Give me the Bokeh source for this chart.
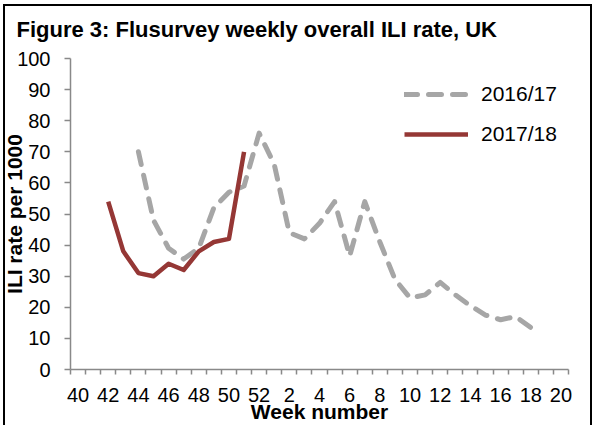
from bokeh.plotting import figure
from bokeh.models import Range1d, FixedTicker, Legend, LegendItem, InlineStyleSheet
from bokeh.embed import file_html
from bokeh.resources import INLINE

# Week categories (season runs from week 40 to week 20)
weeks = list(range(40, 53)) + list(range(1, 21))
tick_weeks = [40, 42, 44, 46, 48, 50, 52, 2, 4, 6, 8, 10, 12, 14, 16, 18, 20]
y_ticks = [0, 10, 20, 30, 40, 50, 60, 70, 80, 90, 100]

# 2016/17 season
weeks_1617 = [44, 45, 46, 47, 48, 49, 50, 51, 52, 1, 2, 3, 4, 5, 6, 7, 8, 9,
              10, 11, 12, 13, 14, 15, 16, 17, 18]
rate_1617 = [70, 48, 39, 35.5, 39, 52, 57, 59, 76, 66, 44, 42, 47, 54, 36.5, 54,
             41, 29, 23, 24, 28, 24, 20.5, 17.5, 16, 17, 13.5]

# 2017/18 season
weeks_1718 = [42, 43, 44, 45, 46, 47, 48, 49, 50, 51]
rate_1718 = [54, 38, 31, 30, 34, 32, 38, 41, 42, 70]

TITLE = "Figure 3:  Flusurvey  weekly overall ILI rate, UK"
FONT = "Liberation Sans"
GRAY_AXIS = "#898989"


def xpos(ws):
    return [weeks.index(w) + 0.5 for w in ws]


p = figure(frame_width=498, frame_height=311,
           x_range=Range1d(0, len(weeks)), y_range=Range1d(0, 100),
           output_backend="svg", toolbar_location=None,
           min_border_left=70, min_border_right=28,
           min_border_top=58, min_border_bottom=56)
p.stylesheets = [InlineStyleSheet(css="""
:host { position: relative; }
:host::after {
  content: "";
  position: absolute;
  left: 3px; top: 4px; right: 4px; bottom: -4px;
  border: 2px solid black;
  pointer-events: none;
  z-index: 100;
}
""")]
p.outline_line_color = None
p.background_fill_color = "white"
p.border_fill_color = "white"
p.xgrid.grid_line_color = None
p.ygrid.grid_line_color = None

# Title
p.title.text = TITLE
p.title.align = "left"
p.title.vertical_align = "top"
p.title.offset = -54
p.title.text_font = FONT
p.title.text_font_size = "22px"
p.title.text_font_style = "bold"
p.title.text_color = "black"
p.title.text_line_height = 0.8
p.title.standoff = 30

# X axis
xa = p.xaxis[0]
xa.ticker = FixedTicker(ticks=xpos(tick_weeks), minor_ticks=list(range(0, len(weeks) + 1)))
xa.major_label_overrides = {x: str(w) for x, w in zip(xpos(tick_weeks), tick_weeks)}
xa.major_tick_out = 0
xa.major_tick_in = 0
xa.minor_tick_out = 5
xa.minor_tick_in = 0
xa.minor_tick_line_color = GRAY_AXIS
xa.minor_tick_line_width = 1.5
xa.axis_line_color = GRAY_AXIS
xa.axis_line_width = 1.5
xa.major_label_standoff = 13
xa.major_label_text_font = FONT
xa.major_label_text_font_size = "20px"
xa.major_label_text_color = "black"
xa.axis_label = "Week number"
xa.axis_label_standoff = -5
xa.axis_label_text_font = FONT
xa.axis_label_text_font_size = "21px"
xa.axis_label_text_font_style = "bold"
xa.axis_label_text_color = "black"

# Y axis
ya = p.yaxis[0]
ya.ticker = FixedTicker(ticks=y_ticks)
ya.major_tick_out = 6
ya.major_tick_in = 0
ya.major_tick_line_color = GRAY_AXIS
ya.major_tick_line_width = 1.5
ya.minor_tick_line_color = None
ya.axis_line_color = GRAY_AXIS
ya.axis_line_width = 1.5
ya.major_label_standoff = 14
ya.major_label_text_font = FONT
ya.major_label_text_font_size = "20px"
ya.major_label_text_color = "black"
ya.axis_label = "ILI rate per 1000"
ya.axis_label_standoff = -12
ya.axis_label_text_font = FONT
ya.axis_label_text_font_size = "21px"
ya.axis_label_text_font_style = "bold"
ya.axis_label_text_color = "black"

r1 = p.line(x=xpos(weeks_1617), y=rate_1617, line_color="#A6A6A6", line_width=5,
            line_dash="13 11", line_cap="round", line_join="round")
r2 = p.line(x=xpos(weeks_1718), y=rate_1718, line_color="#953735", line_width=4.5,
            line_join="round")

legend = Legend(items=[LegendItem(label="2016/17", renderers=[r1]),
                       LegendItem(label="2017/18", renderers=[r2])],
                location=(334, 223), glyph_width=64, glyph_height=20,
                label_height=20, spacing=16, padding=0, margin=0,
                label_standoff=13, border_line_color=None,
                background_fill_alpha=0, label_text_font=FONT,
                label_text_font_size="21px", label_text_color="black")
p.add_layout(legend)

open("out.html", "w").write(file_html(p, INLINE))
